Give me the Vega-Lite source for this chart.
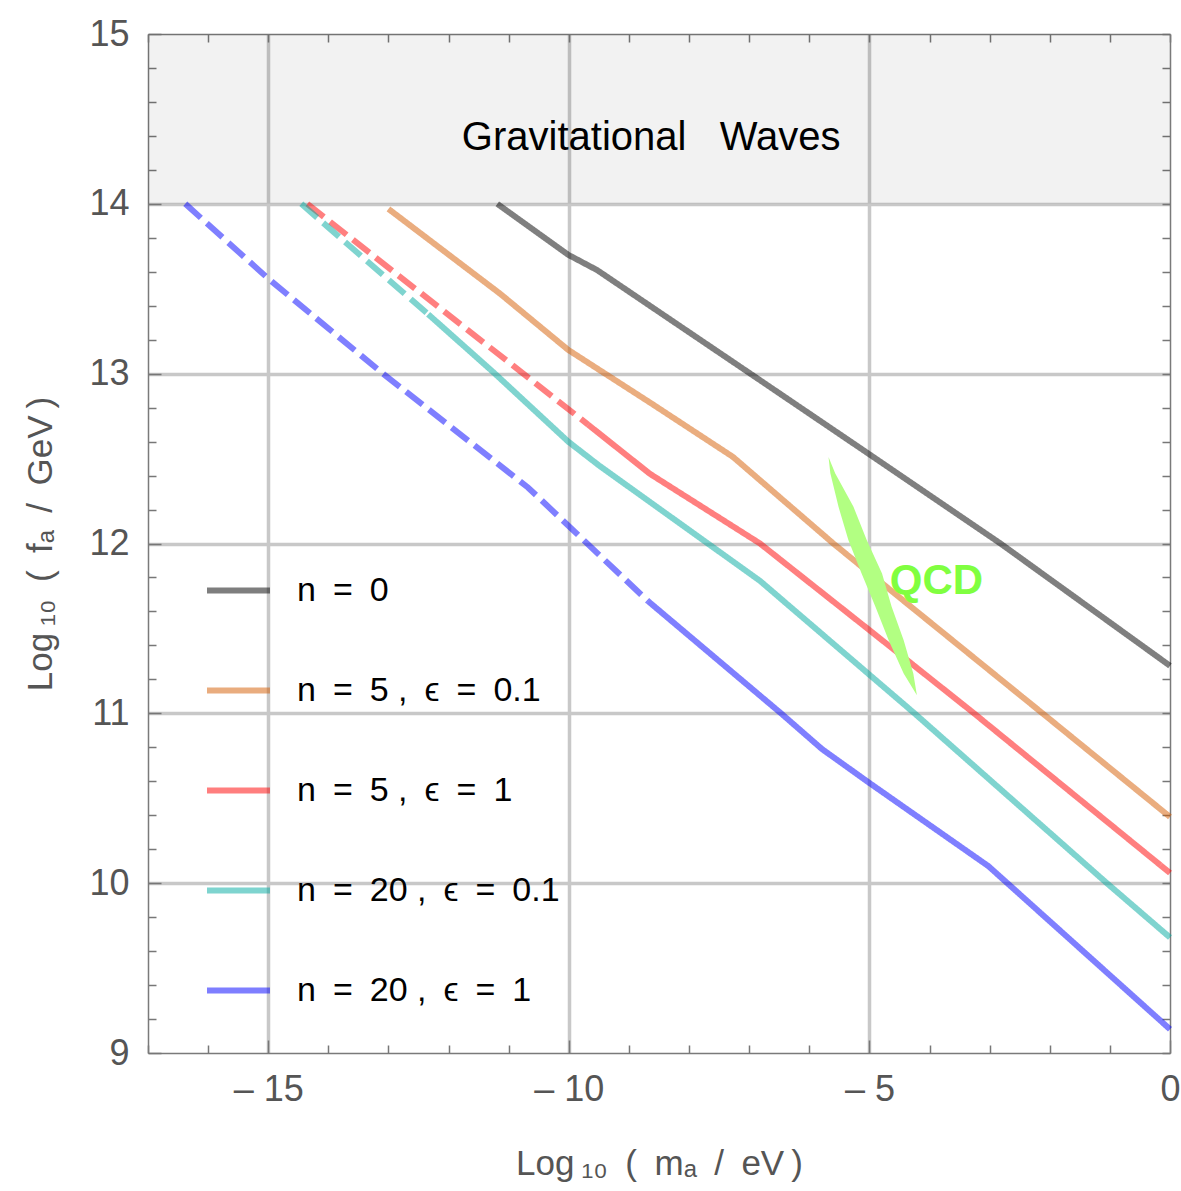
{
  "$schema": "https://vega.github.io/schema/vega-lite/v6.json",
  "width": 1022,
  "height": 1019,
  "autosize": {"type": "none"},
  "padding": {"left": 148, "top": 34, "right": 11, "bottom": 138},
  "background": "white",
  "config": {
    "font": "Liberation Sans",
    "view": {"stroke": null},
    "axis": {
      "domainColor": "#7a7a7a",
      "domainWidth": 1.5,
      "tickColor": "#777777",
      "tickWidth": 1.5,
      "gridColor": "#c8c8c8",
      "gridWidth": 3.5,
      "labelFont": "Liberation Sans",
      "labelFontSize": 36,
      "labelColor": "#555555",
      "titleFont": "Liberation Sans",
      "titleFontSize": 35,
      "titleFontWeight": "normal",
      "titleColor": "#555555",
      "labelOverlap": false,
      "labelFlush": false
    }
  },
  "datasets": {
    "band": [{"x1": -17, "x2": 0, "y1": 14, "y2": 15}],
    "curves": [
      {"s": "n = 0", "seg": "k", "part": "solid", "x": -11.19, "y": 14.0},
      {"s": "n = 0", "seg": "k", "part": "solid", "x": -10.01, "y": 13.7},
      {"s": "n = 0", "seg": "k", "part": "solid", "x": -9.53, "y": 13.61},
      {"s": "n = 0", "seg": "k", "part": "solid", "x": -6.98, "y": 13.0},
      {"s": "n = 0", "seg": "k", "part": "solid", "x": -5.02, "y": 12.53},
      {"s": "n = 0", "seg": "k", "part": "solid", "x": -2.82, "y": 12.0},
      {"s": "n = 0", "seg": "k", "part": "solid", "x": 0, "y": 11.28},

      {"s": "n = 5 , ϵ = 0.1", "seg": "o", "part": "solid", "x": -13.0, "y": 13.97},
      {"s": "n = 5 , ϵ = 0.1", "seg": "o", "part": "solid", "x": -11.14, "y": 13.47},
      {"s": "n = 5 , ϵ = 0.1", "seg": "o", "part": "solid", "x": -10.01, "y": 13.14},
      {"s": "n = 5 , ϵ = 0.1", "seg": "o", "part": "solid", "x": -8.65, "y": 12.83},
      {"s": "n = 5 , ϵ = 0.1", "seg": "o", "part": "solid", "x": -7.27, "y": 12.51},
      {"s": "n = 5 , ϵ = 0.1", "seg": "o", "part": "solid", "x": -5.6, "y": 12.0},
      {"s": "n = 5 , ϵ = 0.1", "seg": "o", "part": "solid", "x": -4.7, "y": 11.74},
      {"s": "n = 5 , ϵ = 0.1", "seg": "o", "part": "solid", "x": -2.12, "y": 11.0},
      {"s": "n = 5 , ϵ = 0.1", "seg": "o", "part": "solid", "x": 0, "y": 10.39},

      {"s": "n = 5 , ϵ = 1", "seg": "r1", "part": "dashed", "x": -14.35, "y": 14.0},
      {"s": "n = 5 , ϵ = 1", "seg": "r1", "part": "dashed", "x": -9.68, "y": 12.7},
      {"s": "n = 5 , ϵ = 1", "seg": "r2", "part": "solid", "x": -9.68, "y": 12.7},
      {"s": "n = 5 , ϵ = 1", "seg": "r2", "part": "solid", "x": -8.65, "y": 12.41},
      {"s": "n = 5 , ϵ = 1", "seg": "r2", "part": "solid", "x": -6.82, "y": 12.0},
      {"s": "n = 5 , ϵ = 1", "seg": "r2", "part": "solid", "x": -5.0, "y": 11.49},
      {"s": "n = 5 , ϵ = 1", "seg": "r2", "part": "solid", "x": -3.26, "y": 11.0},
      {"s": "n = 5 , ϵ = 1", "seg": "r2", "part": "solid", "x": 0, "y": 10.06},

      {"s": "n = 20 , ϵ = 0.1", "seg": "c1", "part": "dashed", "x": -14.45, "y": 14.0},
      {"s": "n = 20 , ϵ = 0.1", "seg": "c1", "part": "dashed", "x": -12.34, "y": 13.35},
      {"s": "n = 20 , ϵ = 0.1", "seg": "c2", "part": "solid", "x": -12.34, "y": 13.35},
      {"s": "n = 20 , ϵ = 0.1", "seg": "c2", "part": "solid", "x": -11.26, "y": 13.01},
      {"s": "n = 20 , ϵ = 0.1", "seg": "c2", "part": "solid", "x": -10.01, "y": 12.6},
      {"s": "n = 20 , ϵ = 0.1", "seg": "c2", "part": "solid", "x": -9.5, "y": 12.46},
      {"s": "n = 20 , ϵ = 0.1", "seg": "c2", "part": "solid", "x": -6.82, "y": 11.78},
      {"s": "n = 20 , ϵ = 0.1", "seg": "c2", "part": "solid", "x": -4.25, "y": 11.0},
      {"s": "n = 20 , ϵ = 0.1", "seg": "c2", "part": "solid", "x": -1.05, "y": 10.0},
      {"s": "n = 20 , ϵ = 0.1", "seg": "c2", "part": "solid", "x": 0, "y": 9.68},

      {"s": "n = 20 , ϵ = 1", "seg": "b1", "part": "dashed", "x": -16.38, "y": 14.0},
      {"s": "n = 20 , ϵ = 1", "seg": "b1", "part": "dashed", "x": -15.0, "y": 13.56},
      {"s": "n = 20 , ϵ = 1", "seg": "b1", "part": "dashed", "x": -13.09, "y": 13.0},
      {"s": "n = 20 , ϵ = 1", "seg": "b1", "part": "dashed", "x": -10.68, "y": 12.33},
      {"s": "n = 20 , ϵ = 1", "seg": "b1", "part": "dashed", "x": -8.68, "y": 11.66},
      {"s": "n = 20 , ϵ = 1", "seg": "b2", "part": "solid", "x": -8.68, "y": 11.66},
      {"s": "n = 20 , ϵ = 1", "seg": "b2", "part": "solid", "x": -6.47, "y": 11.0},
      {"s": "n = 20 , ϵ = 1", "seg": "b2", "part": "solid", "x": -5.79, "y": 10.79},
      {"s": "n = 20 , ϵ = 1", "seg": "b2", "part": "solid", "x": -5.0, "y": 10.59},
      {"s": "n = 20 , ϵ = 1", "seg": "b2", "part": "solid", "x": -3.02, "y": 10.1},
      {"s": "n = 20 , ϵ = 1", "seg": "b2", "part": "solid", "x": 0, "y": 9.14}
    ],
    "qcd": [
      {"qy": 12.51, "qx1": -5.68, "qx2": -5.68},
      {"qy": 12.413, "qx1": -5.65, "qx2": -5.57},
      {"qy": 12.216, "qx1": -5.514, "qx2": -5.265},
      {"qy": 12.02, "qx1": -5.35, "qx2": -5.045},
      {"qy": 11.824, "qx1": -5.13, "qx2": -4.79},
      {"qy": 11.628, "qx1": -4.9, "qx2": -4.63},
      {"qy": 11.431, "qx1": -4.68, "qx2": -4.43},
      {"qy": 11.235, "qx1": -4.43, "qx2": -4.27},
      {"qy": 11.107, "qx1": -4.21, "qx2": -4.21}
    ],
    "gw": [{"tx": -8.63, "ty": 14.39, "label": "Gravitational\u00a0\u00a0\u00a0Waves"}],
    "qcdlabel": [{"tx": -4.66, "ty": 11.78, "label": "QCD"}]
  },
  "layer": [
    {
      "data": {"name": "band"},
      "mark": {"type": "rect", "fill": "#000000", "fillOpacity": 0.05},
      "encoding": {
        "x": {"field": "x1", "type": "quantitative",
          "scale": {"domain": [-17, 0], "nice": false, "zero": false},
          "axis": {"orient": "top", "title": null, "labels": false, "grid": false,
            "values": [-17,-16,-15,-14,-13,-12,-11,-10,-9,-8,-7,-6,-5,-4,-3,-2,-1,0],
            "tickSize": -8}},
        "x2": {"field": "x2"},
        "y": {"field": "y1", "type": "quantitative",
          "scale": {"domain": [9, 15], "nice": false, "zero": false},
          "axis": {"orient": "right", "title": null, "labels": false, "grid": false,
            "values": [9,9.2,9.4,9.6,9.8,10,10.2,10.4,10.6,10.8,11,11.2,11.4,11.6,11.8,12,12.2,12.4,12.6,12.8,13,13.2,13.4,13.6,13.8,14,14.2,14.4,14.6,14.8,15],
            "tickSize": -8}},
        "y2": {"field": "y2"}
      }
    },
    {
      "data": {"name": "curves"},
      "mark": {"type": "line", "strokeWidth": 6, "opacity": 0.5},
      "encoding": {
        "x": {"field": "x", "type": "quantitative",
          "scale": {"domain": [-17, 0], "nice": false, "zero": false},
          "axis": {"orient": "bottom", "title": "Log\u2009₁₀\u2002(\u2002mₐ\u2002/\u2002eV\u2009)", "titlePadding": 34,
            "values": [-17,-16,-15,-14,-13,-12,-11,-10,-9,-8,-7,-6,-5,-4,-3,-2,-1,0],
            "labelExpr": "datum.value % 5 === 0 ? (datum.value < 0 ? '– ' + abs(datum.value) : '0') : ''",
            "labelPadding": 32,
            "tickSize": {"condition": {"test": "datum.value % 5 === 0", "value": -13}, "value": -8},
            "grid": true,
            "gridWidth": 3.5,
            "gridOpacity": {"condition": {"test": "datum.value % 5 === 0 && datum.value > -17 && datum.value < 0", "value": 1}, "value": 0}}},
        "y": {"field": "y", "type": "quantitative",
          "scale": {"domain": [9, 15], "nice": false, "zero": false},
          "axis": {"orient": "left", "title": "Log\u2009₁₀\u2002(\u2002fₐ\u2002/\u2002GeV\u2009)", "titlePadding": 30,
            "values": [9,9.2,9.4,9.6,9.8,10,10.2,10.4,10.6,10.8,11,11.2,11.4,11.6,11.8,12,12.2,12.4,12.6,12.8,13,13.2,13.4,13.6,13.8,14,14.2,14.4,14.6,14.8,15],
            "labelExpr": "abs(datum.value - round(datum.value)) < 0.001 ? format(round(datum.value), 'd') : ''",
            "labelPadding": 32,
            "tickSize": {"condition": {"test": "abs(datum.value - round(datum.value)) < 0.001", "value": -13}, "value": -8},
            "grid": true,
            "gridWidth": 3.5,
            "gridOpacity": {"condition": {"test": "abs(datum.value - round(datum.value)) < 0.001 && datum.value > 9.5 && datum.value < 14.5", "value": 1}, "value": 0}}},
        "color": {"field": "s", "type": "nominal",
          "scale": {"domain": ["n = 0", "n = 5 , ϵ = 0.1", "n = 5 , ϵ = 1", "n = 20 , ϵ = 0.1", "n = 20 , ϵ = 1"],
            "range": ["#000000", "#d55b00", "#ff0000", "#00aaa0", "#0000ff"]},
          "legend": {"orient": "none", "legendX": 56, "legendY": 522, "title": null,
            "symbolType": "stroke", "symbolSize": 3969, "symbolStrokeWidth": 6, "symbolOpacity": 0.5,
            "labelFontSize": 34, "labelColor": "#000000", "labelFont": "Liberation Sans",
            "labelExpr": "replace(replace(datum.label, regexp(' ', 'g'), '\u2002'), regexp('\u2002,', 'g'), ' ,')",
            "rowPadding": 48, "labelOffset": 24, "padding": 0, "labelLimit": 500}},
        "detail": {"field": "seg", "type": "nominal"},
        "strokeDash": {"field": "part", "type": "nominal",
          "scale": {"domain": ["solid", "dashed"], "range": [[1, 0], [21, 8]]},
          "legend": null}
      }
    },
    {
      "data": {"name": "qcd"},
      "mark": {"type": "area", "orient": "horizontal", "fill": "#b2ff82"},
      "encoding": {
        "y": {"field": "qy", "type": "quantitative", "axis": null},
        "x": {"field": "qx1", "type": "quantitative", "axis": null},
        "x2": {"field": "qx2"}
      }
    },
    {
      "data": {"name": "gw"},
      "mark": {"type": "text", "fontSize": 40, "color": "#000000", "align": "center", "baseline": "middle", "font": "Liberation Sans"},
      "encoding": {
        "x": {"field": "tx", "type": "quantitative", "axis": null},
        "y": {"field": "ty", "type": "quantitative", "axis": null},
        "text": {"field": "label"}
      }
    },
    {
      "data": {"name": "qcdlabel"},
      "mark": {"type": "text", "fontSize": 42, "fontWeight": "bold", "color": "#80ff40", "align": "left", "baseline": "middle", "font": "Liberation Sans"},
      "encoding": {
        "x": {"field": "tx", "type": "quantitative", "axis": null},
        "y": {"field": "ty", "type": "quantitative", "axis": null},
        "text": {"field": "label"}
      }
    }
  ],
  "resolve": {"axis": {"x": "independent", "y": "independent"}}
}
